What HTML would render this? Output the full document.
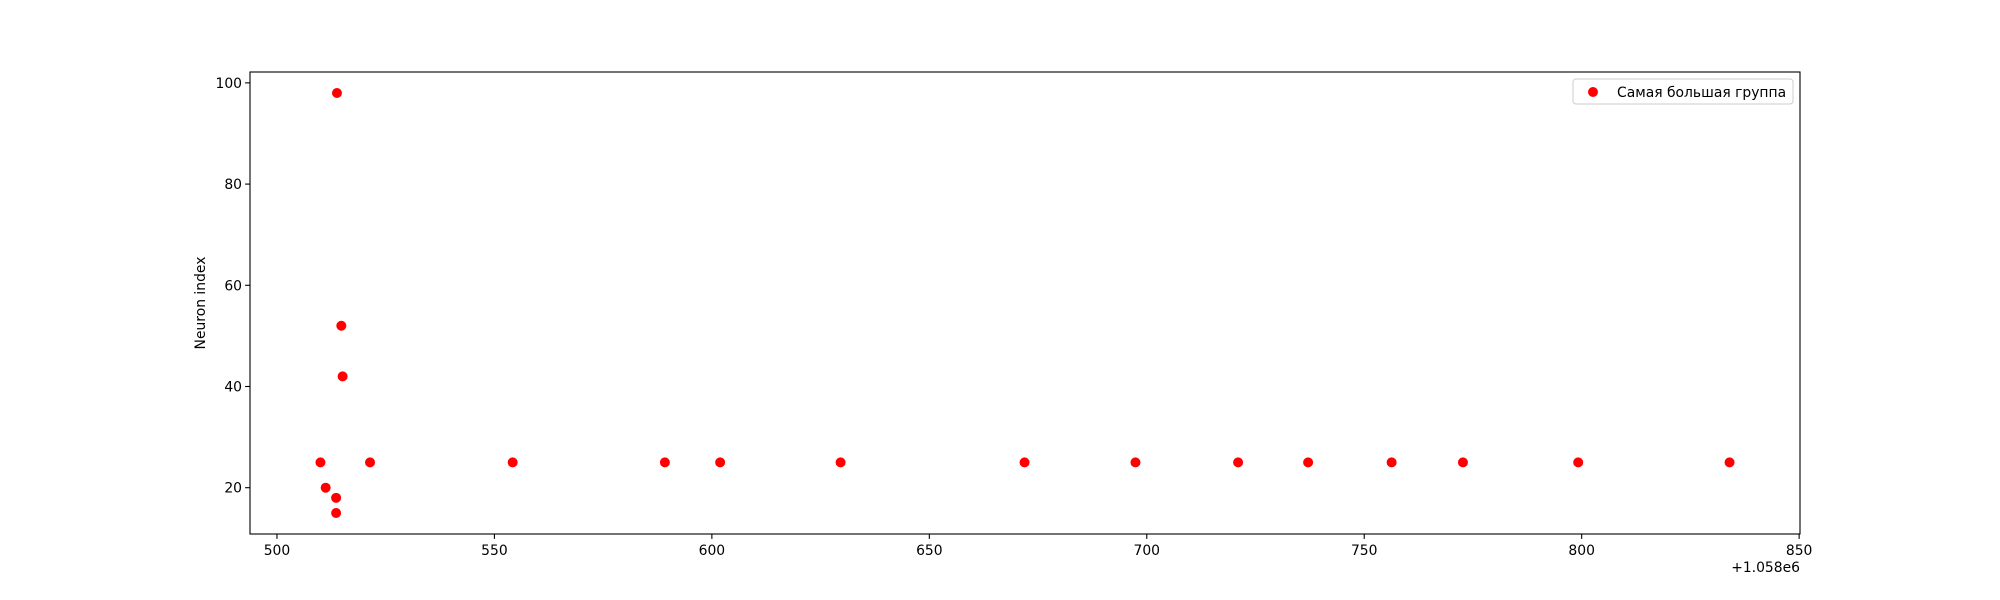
<!DOCTYPE html>
<html><head><meta charset="utf-8"><style>
body{margin:0;background:#fff}
svg{display:block;font-family:"DejaVu Sans","Liberation Sans",sans-serif}
</style></head><body>
<svg id="chart" width="2000" height="600" xmlns="http://www.w3.org/2000/svg">
<rect width="2000" height="600" fill="#fff"/>
<g id="axes"></g>
</svg>
<script>
const xValues=[510.0,511.2,513.8,513.6,513.6,514.8,515.1,521.4,554.2,589.2,601.9,629.6,671.9,697.4,721.0,737.1,756.3,772.7,799.2,834.0];
const yValues=[25,20,98,18,15,52,42,25,25,25,25,25,25,25,25,25,25,25,25,25];
const xTicks=[500,550,600,650,700,750,800,850];
const yTicks=[20,40,60,80,100];
const seriesLabel="Самая большая группа";
const NS="http://www.w3.org/2000/svg";
const L=250,R=1800,T=72,B=534;
const xmin=493.8,xmax=850.2,ymin=10.85,ymax=102.15;
const sx=v=>L+(v-xmin)/(xmax-xmin)*(R-L);
const sy=v=>B-(v-ymin)/(ymax-ymin)*(B-T);
const g=document.getElementById('axes');
function mk(tag,attrs,text){const e=document.createElementNS(NS,tag);for(const k in attrs)e.setAttribute(k,attrs[k]);if(text!==undefined)e.textContent=text;g.appendChild(e);return e;}
xValues.forEach((x,i)=>{
 const c=mk('circle',{cx:sx(x),cy:sy(yValues[i]),r:5,fill:'#ff0000'});
 
 
});
const frame=mk('rect',{x:L,y:T,width:R-L,height:B-T,fill:'none',stroke:'#000','stroke-width':1.1});


xTicks.forEach(t=>{
 const x=sx(t);
 const tk=mk('line',{x1:x,x2:x,y1:B,y2:B+4.9,stroke:'#000','stroke-width':1.1});
 
 
 const lb=mk('text',{x:x,y:B+21,'text-anchor':'middle','font-size':13.9},String(t));
 
 
});
yTicks.forEach(t=>{
 const y=sy(t);
 const tk=mk('line',{x1:L-4.9,x2:L,y1:y,y2:y,stroke:'#000','stroke-width':1.1});
 
 
 const lb=mk('text',{x:L-8,y:y+5,'text-anchor':'end','font-size':13.9},String(t));
 
 
});
const off=mk('text',{x:R,y:572,'text-anchor':'end','font-size':13.9},'+1.058e6');


const yl=mk('text',{x:0,y:0,'text-anchor':'middle','font-size':13.9,transform:`translate(205,${(T+B)/2}) rotate(-90)`},'Neuron index');


const lg=mk('rect',{x:1573,y:79,width:220,height:25,rx:3,fill:'#fff',stroke:'#ccc','stroke-width':1});


const lm=mk('circle',{cx:1593,cy:92,r:5,fill:'#ff0000'});


const lt=mk('text',{x:1617,y:97,'font-size':13.9},seriesLabel);


</script>
</body></html>
